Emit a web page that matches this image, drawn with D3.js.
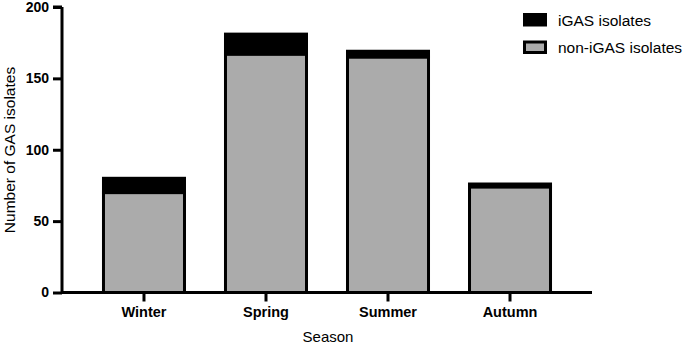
<!DOCTYPE html>
<html><head><meta charset="utf-8">
<script src="https://cdn.jsdelivr.net/npm/d3@7"></script>
<style>body{margin:0;background:#fff}svg{display:block}text{font-family:"Liberation Sans",Arial,sans-serif}</style>
</head><body><svg id="c" width="685" height="344"></svg>
<script>
const categories = ["Winter","Spring","Summer","Autumn"];
const nonIGAS = [70,167,165,74];
const iGAS = [10,14,4,2];
const seriesNames = ["iGAS isolates","non-iGAS isolates"];
const yTicks = [0,50,100,150,200];

const svg = d3.select("#c");
const x = d3.scaleBand().domain(categories).range([62,592]).paddingInner(0.336).paddingOuter(0.34);
const y = d3.scaleLinear().domain([0,200]).range([292.5,7]);

const g = svg.append("g");
categories.forEach((c,i)=>{
  const x0 = x(c), w = x.bandwidth();
  g.append("rect").attr("x",x0).attr("width",w)
    .attr("y",y(nonIGAS[i])).attr("height",y(0)-y(nonIGAS[i]))
    .attr("fill","#ababab").attr("stroke","#000").attr("stroke-width",3);
  g.append("rect").attr("x",x0).attr("width",w)
    .attr("y",y(nonIGAS[i]+iGAS[i])).attr("height",y(nonIGAS[i])-y(nonIGAS[i]+iGAS[i]))
    .attr("fill","#000").attr("stroke","#000").attr("stroke-width",3);
});

const yAxis = svg.append("g").attr("transform","translate(62,0)")
  .call(d3.axisLeft(y).tickValues(yTicks).tickSize(9).tickPadding(4));
const xAxis = svg.append("g").attr("transform","translate(0,292.5)")
  .call(d3.axisBottom(x).tickSize(9).tickPadding(5));
[yAxis,xAxis].forEach(a=>{
  a.select(".domain").attr("stroke-width",3).attr("stroke","#000");
  a.selectAll(".tick line").attr("stroke-width",3).attr("stroke","#000");
  a.selectAll(".tick text").attr("fill","#000").attr("font-weight","bold")
   .attr("font-family","'Liberation Sans',Arial,sans-serif");
});
yAxis.select(".domain").attr("d","M0,292.5V7M-9,7H0");
xAxis.select(".domain").attr("d","M62,0H592");
yAxis.selectAll(".tick text").attr("font-size",14);
xAxis.selectAll(".tick text").attr("font-size",14.5);

svg.append("text").attr("transform","translate(15,150) rotate(-90)")
  .attr("text-anchor","middle").attr("font-size",15.5).attr("fill","#000").text("Number of GAS isolates");
svg.append("text").attr("x",328).attr("y",342).attr("text-anchor","middle")
  .attr("font-size",15).attr("fill","#000").text("Season");

const legFill = ["#000","#ababab"];
seriesNames.forEach((n,i)=>{
  const ly = 14.5 + i*27.5;
  svg.append("rect").attr("x",524.5).attr("y",ly).attr("width",21).attr("height",10.5)
    .attr("fill",legFill[i]).attr("stroke","#000").attr("stroke-width",3);
  svg.append("text").attr("x",558).attr("y",ly+11).attr("font-size",15.5).attr("fill","#000").text(n);
});
</script></body></html>
